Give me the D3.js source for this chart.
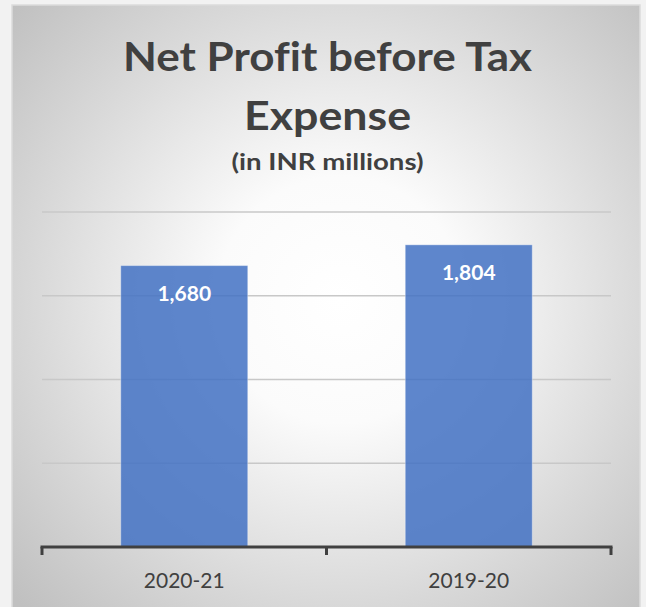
<!DOCTYPE html>
<html>
<head>
<meta charset="utf-8">
<script src="https://cdn.jsdelivr.net/npm/d3@7/dist/d3.min.js"></script>
<style>
  html, body { margin: 0; padding: 0; background: #f2f2f2; }
  svg { display: block; }
  text { font-family: Lato, "Open Sans", sans-serif; font-variant-ligatures: none; }
</style>
</head>
<body>
<svg id="chart" width="646" height="607"></svg>
<script>
// Net profit before tax expense, INR millions
const categories = ["2020-21", "2019-20"];
const values = [1680, 1804];
const gridTicks = [500, 1000, 1500, 2000];
const titleLines = ["Net Profit before Tax", "Expense"];
const subtitle = "(in INR millions)";

const W = 646, H = 607;
const svg = d3.select("#chart");

// Panel background with a soft radial shading
const defs = svg.append("defs");
const grad = defs.append("radialGradient")
  .attr("id", "panelShade")
  .attr("gradientUnits", "userSpaceOnUse")
  .attr("cx", 340).attr("cy", 300).attr("r", 440);
[[0, "#ffffff"], [0.28, "#fbfbfb"], [0.7, "#d8d8d8"], [1, "#c0c0c0"]]
  .forEach(([o, c]) => grad.append("stop").attr("offset", o).attr("stop-color", c));

svg.append("rect")
  .attr("x", 12).attr("y", 5)
  .attr("width", 628).attr("height", H)
  .attr("fill", "url(#panelShade)")
  .attr("stroke", "#dcdcdc")
  .attr("stroke-width", 1.5);

// Scales
const x = d3.scaleBand()
  .domain(categories)
  .range([42, 611])
  .paddingInner(0.5536)
  .paddingOuter(0.2768);

const y = d3.scaleLinear()
  .domain([0, 2000])
  .range([547, 212]);

// Horizontal gridlines
svg.append("g")
  .selectAll("line")
  .data(gridTicks)
  .join("line")
  .attr("x1", x.range()[0]).attr("x2", x.range()[1])
  .attr("y1", d => y(d)).attr("y2", d => y(d))
  .attr("stroke", "#c8c8c8")
  .attr("stroke-width", 1.6);

// Bars
svg.append("g")
  .selectAll("rect")
  .data(values)
  .join("rect")
  .attr("x", (d, i) => x(categories[i]))
  .attr("y", d => y(d))
  .attr("width", x.bandwidth())
  .attr("height", d => y(0) - y(d))
  .attr("fill", "#4472c4")
  .attr("fill-opacity", 0.86)
  .attr("stroke", "rgba(255,255,255,0.35)")
  .attr("stroke-width", 1);

// Value labels inside the bars
const fmt = d3.format(",");
svg.append("g")
  .selectAll("text")
  .data(values)
  .join("text")
  .attr("x", (d, i) => x(categories[i]) + x.bandwidth() / 2)
  .attr("y", d => y(d) + 35)
  .attr("text-anchor", "middle")
  .attr("font-size", 21)
  .attr("font-weight", 700)
  .attr("fill", "#ffffff")
  .text(d => fmt(d));

// Category axis: baseline with tick marks at band boundaries
const step = x.step();
const bounds = [x.range()[0]]
  .concat(categories.slice(1).map(c => x(c) - step * x.paddingInner() / 2))
  .concat([x.range()[1]]);
const axisG = svg.append("g");
axisG.append("line")
  .attr("x1", x.range()[0] - 1.5).attr("x2", x.range()[1] + 1.5)
  .attr("y1", y(0)).attr("y2", y(0))
  .attr("stroke", "#404040").attr("stroke-width", 3);
axisG.selectAll("line.tick")
  .data(bounds)
  .join("line")
  .attr("class", "tick")
  .attr("x1", d => d).attr("x2", d => d)
  .attr("y1", y(0)).attr("y2", y(0) + 8)
  .attr("stroke", "#404040").attr("stroke-width", 3);

svg.append("g")
  .selectAll("text")
  .data(categories)
  .join("text")
  .attr("x", d => x(d) + x.bandwidth() / 2)
  .attr("y", 588)
  .attr("text-anchor", "middle")
  .attr("font-size", 21)
  .attr("fill", "#404040")
  .text(d => d);

// Titles
const titleSpecs = [
  { t: titleLines[0], y: 71, size: 41, w: 409 },
  { t: titleLines[1], y: 130, size: 41, w: 167 },
  { t: subtitle, y: 169.5, size: 22, w: 192 }
];
titleSpecs.forEach(s => {
  svg.append("text")
    .attr("x", 327.5)
    .attr("y", s.y)
    .attr("text-anchor", "middle")
    .attr("font-size", s.size)
    .attr("font-weight", 700)
    .attr("fill", "#404040")
    .attr("textLength", s.w)
    .attr("lengthAdjust", "spacingAndGlyphs")
    .text(s.t);
});
</script>
</body>
</html>
